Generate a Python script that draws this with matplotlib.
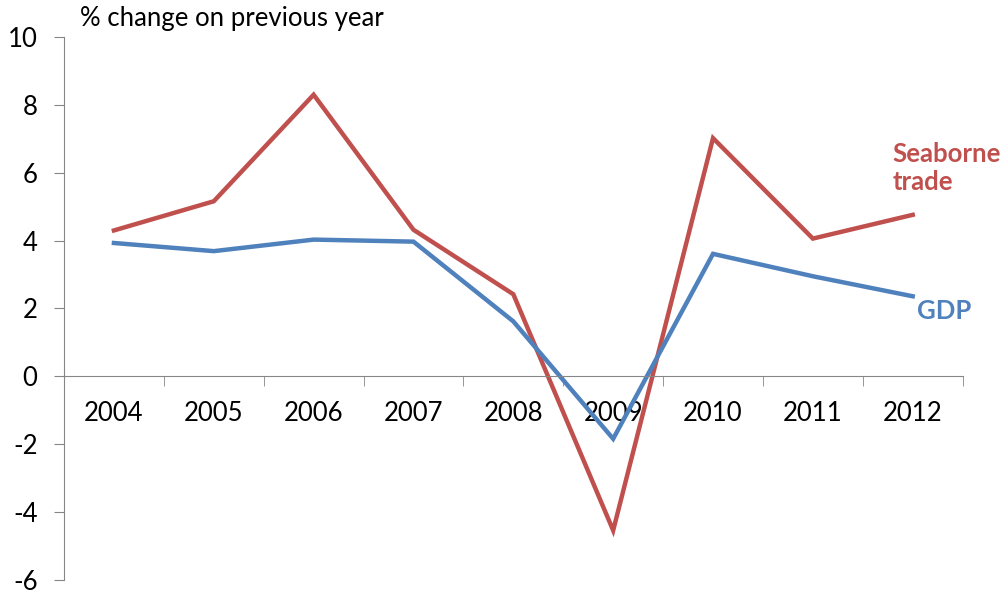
import numpy as np
import matplotlib.pyplot as plt

# data
years = ['2004', '2005', '2006', '2007', '2008', '2009', '2010', '2011', '2012']
seaborne = [4.3, 5.16, 8.3, 4.32, 2.42, -4.54, 7.02, 4.06, 4.76]
gdp = [3.93, 3.69, 4.03, 3.97, 1.62, -1.84, 3.61, 2.95, 2.36]

red = '#C0504D'
blue = '#4F81BD'
grey = '#868686'

plt.rcParams['font.family'] = ['Lato', 'DejaVu Sans']
plt.rcParams['axes.unicode_minus'] = False  # plain hyphen like the original

fig = plt.figure(figsize=(10.08, 5.94), dpi=100)
ax = fig.add_axes([0.0635, 0.0236, 0.8915, 0.9141])

x = np.arange(len(years))
ax.plot(x, seaborne, color=red, lw=3.2, solid_joinstyle='miter')
ax.plot(x, gdp, color=blue, lw=3.2, solid_joinstyle='miter')

ax.set_xlim(-0.5, len(years) - 0.5)
ax.set_ylim(-6, 10)
ax.set_yticks(np.arange(-6, 11, 2))

# category labels, tick marks between categories
ax.set_xticks(x)
ax.set_xticklabels(years)
ax.set_xticks(np.arange(-0.5, len(years), 1), minor=True)
ax.tick_params(axis='x', which='major', length=0, pad=18, labelsize=18.5)
ax.tick_params(axis='x', which='minor', length=7, color=grey, direction='out')
ax.tick_params(axis='y', length=7, color=grey, pad=12, labelsize=18.5)

for s in ['top', 'right']:
    ax.spines[s].set_visible(False)
ax.spines['bottom'].set_position(('data', 0))
ax.spines['bottom'].set_color(grey)
ax.spines['left'].set_color(grey)

fig.text(0.079, 0.969, '% change on previous year', fontsize=18.5, va='center', ha='left')

ax.text(7.8, 6.15, 'Seaborne\ntrade', color=red, fontsize=18.5, fontweight='bold',
        ha='left', va='center', linespacing=1.2, clip_on=False)
ax.text(8.04, 1.94, 'GDP', color=blue, fontsize=18.5, fontweight='bold',
        ha='left', va='center', clip_on=False)

fig.savefig('out.png', dpi=100)
